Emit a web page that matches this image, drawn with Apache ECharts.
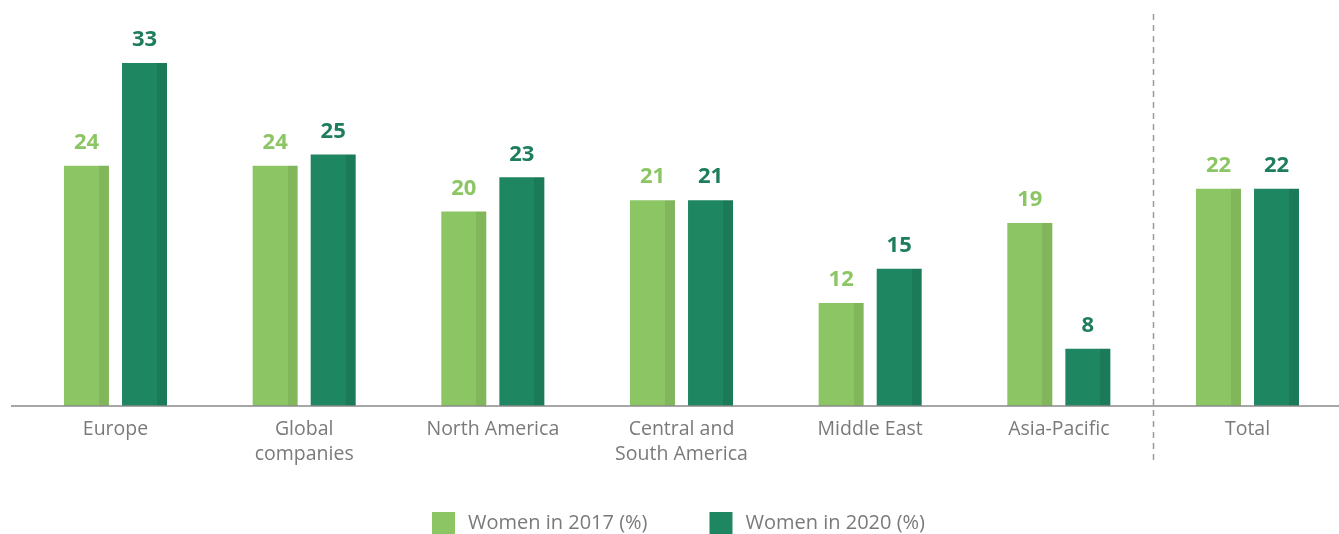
<!DOCTYPE html>
<html>
<head>
<meta charset="utf-8">
<script src="https://cdn.jsdelivr.net/npm/echarts@6/dist/echarts.min.js"></script>
<style>
html,body{margin:0;padding:0;background:#fff;}
#main{width:1339px;height:534px;}
</style>
</head>
<body>
<div id="main"></div>
<script>
const categories = ['Europe', 'Global\ncompanies', 'North America', 'Central and\nSouth America', 'Middle East', 'Asia-Pacific', 'Total'];
const women2017 = [24, 24, 20, 21, 12, 19, 22];
const women2020 = [33, 25, 23, 21, 15, 8, 22];
const seriesNames = ['Women in 2017 (%)', 'Women in 2020 (%)'];

const LIGHT = '#8CC664', LIGHT_S = '#82B65B', LIGHT_T = '#8CC664';
const DARK = '#1E8661', DARK_S = '#1B7B59', DARK_T = '#1E7E5C';

function stripe(main, strip) {
  return {type: 'linear', x: 0, y: 0, x2: 1, y2: 0, colorStops: [
    {offset: 0, color: main}, {offset: 0.775, color: main},
    {offset: 0.775, color: strip}, {offset: 1, color: strip}]};
}

const chart = echarts.init(document.getElementById('main'));
const FONT = '"Open Sans", "Noto Sans", sans-serif';
chart.setOption({
  animation: false,
  textStyle: {fontFamily: FONT},
  grid: {left: 115.5, width: 1132, top: 40, height: 366},
  legend: {
    left: 432, top: 512, padding: 0, itemWidth: 23, itemHeight: 22, itemGap: 62,
    icon: 'rect',
    textStyle: {fontSize: 20, color: '#7a7a7a', fontFamily: FONT, padding: [0, 0, 0, 8]},
    data: [
      {name: seriesNames[0], itemStyle: {color: LIGHT}},
      {name: seriesNames[1], itemStyle: {color: DARK}}
    ]
  },
  xAxis: {
    type: 'category', data: categories, boundaryGap: false,
    axisLine: {show: false}, axisTick: {show: false},
    axisLabel: {interval: 0, color: '#7a7a7a', fontSize: 19.5, lineHeight: 25, margin: 11, fontFamily: FONT}
  },
  yAxis: {type: 'value', min: 3, max: 35, show: false, splitLine: {show: false}},
  series: [
    {name: seriesNames[0], type: 'bar', data: women2017, barWidth: 45, barGap: '29%',
     itemStyle: {color: stripe(LIGHT, LIGHT_S)},
     label: {show: true, position: 'top', distance: 12, color: LIGHT_T, fontSize: 22, fontWeight: 'bold', fontFamily: FONT}},
    {name: seriesNames[1], type: 'bar', data: women2020, barWidth: 45, barGap: '29%',
     itemStyle: {color: stripe(DARK, DARK_S)},
     label: {show: true, position: 'top', distance: 12, color: DARK_T, fontSize: 22, fontWeight: 'bold', fontFamily: FONT}}
  ]
});

const axisY = chart.convertToPixel({yAxisIndex: 0}, 3);
const xa = chart.convertToPixel({xAxisIndex: 0}, categories[5]);
const xb = chart.convertToPixel({xAxisIndex: 0}, categories[6]);
const sepX = Math.round((xa + xb) / 2) + 0.5;
chart.setOption({
  graphic: [
    {type: 'line', shape: {x1: 11, y1: axisY, x2: 1339, y2: axisY}, style: {stroke: '#8a8a8a', lineWidth: 1.5}, z: 100},
    {type: 'line', shape: {x1: sepX, y1: 14, x2: sepX, y2: 462}, style: {stroke: '#9a9a9a', lineWidth: 1.5, lineDash: [6, 5]}, z: 100}
  ]
});
</script>
</body>
</html>
